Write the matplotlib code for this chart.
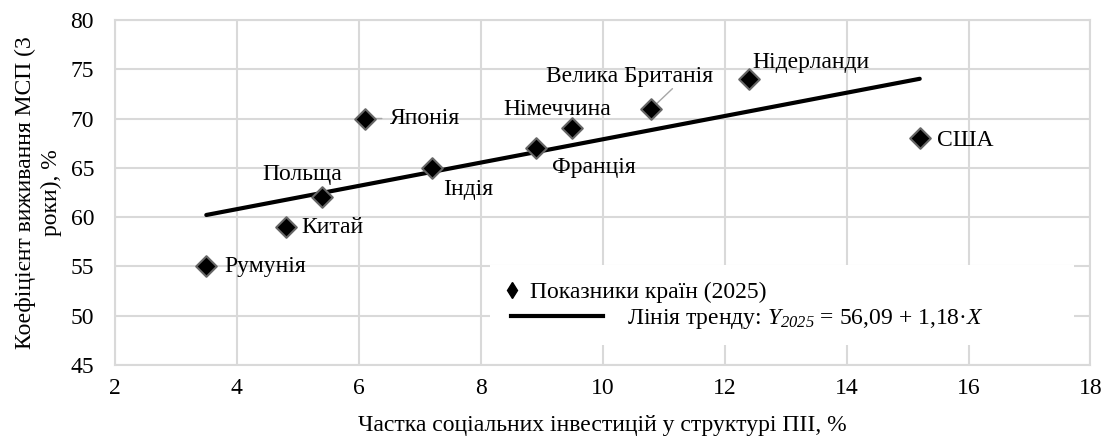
import matplotlib
matplotlib.use('Agg')
import matplotlib.pyplot as plt
from matplotlib.lines import Line2D
from matplotlib.patches import Rectangle
import numpy as np

# country data
countries = ['Румунія', 'Китай', 'Польща', 'Японія', 'Індія', 'Франція',
             'Німеччина', 'Велика Британія', 'Нідерланди', 'США']
invest_share = [3.5, 4.8, 5.4, 6.1, 7.2, 8.9, 9.5, 10.8, 12.4, 15.2]
survival = [55, 59, 62, 70, 65, 67, 69, 71, 74, 68]

# trend line coefficients
intercept = 56.09
slope = 1.18

# label offsets in pixels (dx, dy, ha)
label_pos = {
    'Румунія': (18, 0, 'left'),
    'Китай': (16, 0, 'left'),
    'Польща': (-20, 23, 'center'),
    'Японія': (25, 0, 'left'),
    'Індія': (11, -22, 'left'),
    'Франція': (58, -19, 'center'),
    'Німеччина': (-15, 19, 'center'),
    'Велика Британія': (-22, 32, 'center'),
    'Нідерланди': (3, 17, 'left'),
    'США': (17, -2, 'left'),
}
# leader lines: start offset (pixels) from the point
leaders = {'Японія': (17, 0), 'Велика Британія': (21, 20)}

plt.rcParams['font.family'] = ['Liberation Serif', 'DejaVu Serif']
plt.rcParams['font.size'] = 17
plt.rcParams['mathtext.fontset'] = 'custom'
plt.rcParams['mathtext.rm'] = 'Liberation Serif'
plt.rcParams['mathtext.it'] = 'Liberation Serif:italic'
plt.rcParams['mathtext.sf'] = 'Liberation Serif:italic'

fig = plt.figure(figsize=(11.15, 4.41), dpi=100)
ax = fig.add_axes([0.103, 0.172, 0.875, 0.783])

grid_col = '#d9d9d9'
ax.set_axisbelow(True)
ax.grid(True, color=grid_col, linewidth=1.5)
for s in ax.spines.values():
    s.set_color(grid_col)
    s.set_linewidth(1.5)

ax.set_xlim(2, 18)
ax.set_ylim(45, 80)
ax.set_xticks(np.arange(2, 19, 2))
ax.set_yticks(np.arange(45, 81, 5))
ax.tick_params(axis='x', length=0, pad=9, labelsize=17)
ax.tick_params(axis='y', length=0, pad=15, labelsize=17)

# trend line over the data range
xt = np.array([min(invest_share), max(invest_share)])
ax.plot(xt, intercept + slope * xt, color='black', linewidth=3, zorder=3,
        solid_capstyle='round')

ax.scatter(invest_share, survival, marker='D', s=110, color='black',
           edgecolor='#666666', linewidth=1.5, zorder=4)

for name, x, y in zip(countries, invest_share, survival):
    dx, dy, ha = label_pos[name]
    ax.annotate(name, (x, y), xytext=(dx, dy), textcoords='offset pixels',
                ha=ha, va='center', fontsize=17)
    if name in leaders:
        ax.annotate('', (x, y), xytext=leaders[name], textcoords='offset pixels',
                    arrowprops=dict(arrowstyle='-', color='#a6a6a6', lw=1,
                                    shrinkA=0, shrinkB=3), zorder=2)

ax.set_xlabel('Частка соціальних інвестицій у структурі ПІІ, %', fontsize=17,
              labelpad=12)
ax.set_ylabel('Коефіцієнт виживання МСП (3\nроки), %', fontsize=17,
              labelpad=6, linespacing=1.3)

# white box behind the legend
ax.add_patch(Rectangle((0.385, 0.058), 0.598, 0.232, transform=ax.transAxes,
                       facecolor='white', edgecolor='none', zorder=1))

h1 = Line2D([], [], marker='d', color='black', linestyle='none', markersize=8)
leg1 = ax.legend([h1], ['Показники країн (2025)'], loc='upper left',
                 bbox_to_anchor=(0.380, 0.29), frameon=False, handlelength=0.8,
                 handletextpad=0.4, borderpad=0.2, fontsize=17)
ax.add_artist(leg1)

h2 = Line2D([], [], color='black', linewidth=3)
ax.legend([h2], [r'Лінія тренду: $\mathit{Y}_{\mathsf{2025}}$ = 56,09 + 1,18·$\mathit{X}$'],
          loc='upper left', bbox_to_anchor=(0.389, 0.215), frameon=False,
          handlelength=3.9, handletextpad=1.0, borderpad=0.2, fontsize=17)

plt.savefig('out.png', dpi=100)
